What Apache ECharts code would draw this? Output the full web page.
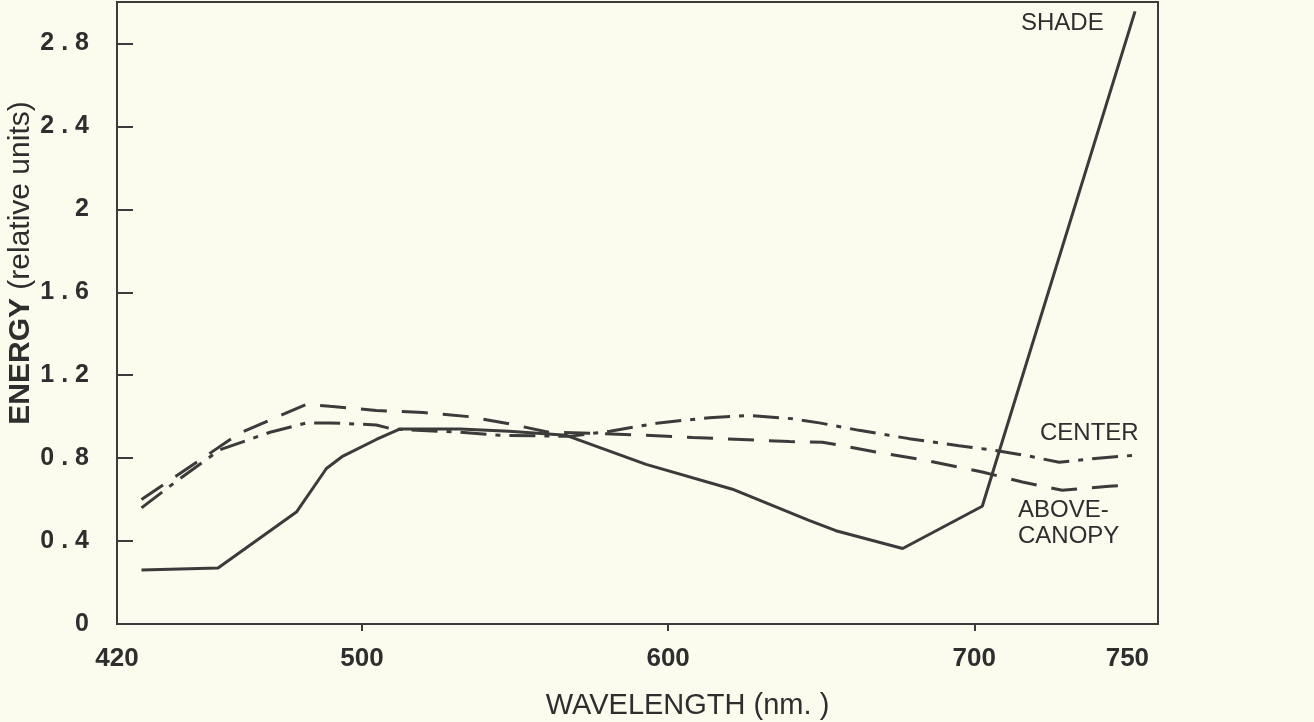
<!DOCTYPE html>
<html>
<head>
<meta charset="utf-8">
<title>Energy vs wavelength</title>
<script src="https://cdn.jsdelivr.net/npm/echarts@6/dist/echarts.min.js"></script>
<style>
  html, body { margin: 0; padding: 0; background: #fbfbee; }
  #chart { width: 1314px; height: 722px; }
</style>
</head>
<body>
<div id="chart"></div>
<script>
// wavelength (nm) and energy (relative units)
var shadeWl     = [428, 453, 478.6, 488.4, 493.8, 504.7, 512.3, 532, 548, 566.7, 592.8, 621, 646, 654.8, 676.6, 702.6, 752.5];
var shadeEnergy = [0.26, 0.27, 0.54, 0.75, 0.81, 0.89, 0.94, 0.94, 0.93, 0.91, 0.77, 0.65, 0.50, 0.45, 0.364, 0.568, 2.955];

var centerWl     = [428, 439.5, 453.6, 470, 482, 489.5, 504.7, 510, 532, 545, 567.8, 581, 597, 613.5, 626.5, 640.7, 649.4, 662.4, 678.7, 695, 707, 716.8, 727.7, 738.5, 751.6];
var centerEnergy = [0.56, 0.69, 0.84, 0.925, 0.97, 0.97, 0.96, 0.94, 0.925, 0.91, 0.905, 0.93, 0.97, 0.995, 1.006, 0.99, 0.97, 0.934, 0.894, 0.86, 0.837, 0.813, 0.78, 0.797, 0.813];

var aboveWl     = [428, 447, 460, 474, 482, 489.5, 504.7, 520, 535, 548, 561, 575, 592.8, 608, 624, 639.6, 650.4, 667.8, 684, 702.6, 715.7, 728.7, 744, 750.5];
var aboveEnergy = [0.60, 0.79, 0.92, 1.01, 1.06, 1.05, 1.03, 1.02, 1.0, 0.966, 0.925, 0.92, 0.91, 0.90, 0.89, 0.88, 0.877, 0.83, 0.79, 0.733, 0.685, 0.645, 0.664, 0.67];

var xLabels = [420, 500, 600, 700, 750];
var xTicks  = [500, 600, 700];
var yLabels = [0, 0.4, 0.8, 1.2, 1.6, 2, 2.4, 2.8];
var yTicks  = [0.4, 0.8, 1.2, 1.6, 2, 2.4, 2.8];

var ink = '#3b3b3b';
var textInk = '#2e2e2e';
var font = '"Liberation Sans", Arial, sans-serif';

function pairs(xs, ys) {
    return xs.map(function(x, i) { return [x, ys[i]]; });
}

function lineSeries(name, data, dash) {
    return {
        name: name,
        type: 'line',
        data: data,
        showSymbol: false,
        silent: true,
        lineStyle: { color: ink, width: 3, type: dash, cap: 'butt' }
    };
}

var chart = echarts.init(document.getElementById('chart'));

chart.setOption({
    backgroundColor: '#fbfbee',
    animation: false,
    grid: {
        left: 117, right: 156, top: 2, bottom: 98,
        outerBoundsMode: 'none',
        containLabel: false,
        show: true, borderColor: ink, borderWidth: 2
    },
    xAxis: {
        type: 'value',
        min: 420,
        max: 760,
        name: 'WAVELENGTH (nm. )',
        nameLocation: 'middle',
        nameGap: 67,
        nameMoveOverlap: false,
        nameTextStyle: { color: textInk, fontFamily: font, fontSize: 29, padding: [0, 0, 0, 100] },
        axisLine: { lineStyle: { color: ink, width: 2 } },
        axisTick: { customValues: xTicks, length: 7, lineStyle: { color: ink, width: 2 } },
        axisLabel: {
            customValues: xLabels,
            margin: 22,
            color: textInk,
            fontFamily: font,
            fontWeight: 'bold',
            fontSize: 26
        },
        splitLine: { show: false }
    },
    yAxis: {
        type: 'value',
        min: 0,
        max: 3,
        name: '{b|ENERGY} {n|(relative units)}',
        nameLocation: 'middle',
        nameGap: 81,
        nameMoveOverlap: false,
        nameTextStyle: {
            color: textInk,
            fontFamily: font,
            fontSize: 30,
            padding: [0, 0, 0, 100],
            rich: {
                b: { fontFamily: font, fontSize: 30, fontWeight: 'bold', color: textInk },
                n: { fontFamily: font, fontSize: 30, color: textInk }
            }
        },
        axisLine: { lineStyle: { color: ink, width: 2 } },
        axisTick: { customValues: yTicks, inside: true, length: 16, lineStyle: { color: ink, width: 2 } },
        axisLabel: {
            customValues: yLabels,
            margin: 28,
            color: textInk,
            fontFamily: font,
            fontWeight: 'bold',
            fontSize: 25,
            formatter: function(v) { return String(v).replace('.', ' . '); }
        },
        splitLine: { show: false }
    },
    graphic: [
        { type: 'text', left: 1021, top: 11, style: { text: 'SHADE', fill: textInk, font: '24px ' + font } },
        { type: 'text', left: 1040, top: 421, style: { text: 'CENTER', fill: textInk, font: '24px ' + font } },
        { type: 'text', left: 1018, top: 497, style: { text: 'ABOVE-\nCANOPY', fill: textInk, font: '24px ' + font, lineHeight: 26 } }
    ],
    series: [
        lineSeries('SHADE', pairs(shadeWl, shadeEnergy), 'solid'),
        lineSeries('CENTER', pairs(centerWl, centerEnergy), [26, 9, 5, 9]),
        lineSeries('ABOVE-CANOPY', pairs(aboveWl, aboveEnergy), [26, 15])
    ]
});
</script>
</body>
</html>
